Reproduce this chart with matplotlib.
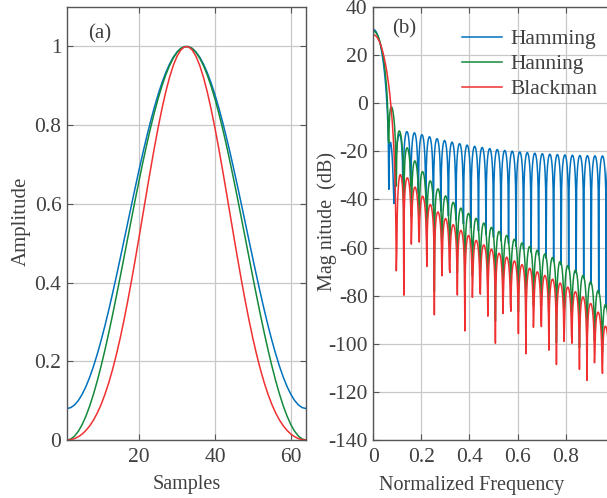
import numpy as np
import matplotlib
matplotlib.use("Agg")
import matplotlib.pyplot as plt

# ---- data / parameters ----
n_samples = 64                      # window length (samples 1..64)
names = ["Hamming", "Hanning", "Blackman"]
# generalized cosine-window coefficients a0, a1, a2
coef_hamming = [0.54, 0.46, 0.0]
coef_hanning = [0.5, 0.5, 0.0]
coef_blackman = [0.42, 0.5, 0.08]
n_freq = 512                        # frequency points, 0..1 (x pi rad/sample)
colors = ["#0072BD", "#14893C", "#F03030"]

left_xticks = [20, 40, 60]
left_yticks = [0, 0.2, 0.4, 0.6, 0.8, 1]
right_xticks = [0, 0.2, 0.4, 0.6, 0.8]
right_yticks = [-140, -120, -100, -80, -60, -40, -20, 0, 20, 40]


def cos_window(c, N):
    k = np.arange(N)
    d = N - 1
    w = c[0] - c[1] * np.cos(2 * np.pi * k / d) + c[2] * np.cos(4 * np.pi * k / d)
    w[np.abs(w) < 1e-12] = 0.0
    return w


samples = np.arange(1, n_samples + 1)
windows = [cos_window(c, n_samples) for c in (coef_hamming, coef_hanning, coef_blackman)]

freq = np.arange(n_freq) / n_freq
mags = []
for w in windows:
    H = np.fft.fft(w, 2 * n_freq)[:n_freq]
    mags.append(20 * np.log10(np.abs(H) + 1e-12))

# ---- styling ----
plt.rcParams["font.family"] = ["Liberation Serif", "DejaVu Serif"]
plt.rcParams["axes.unicode_minus"] = False
txt = "#404040"
spine_c = "#555555"
grid_c = "#C8C8C8"
tfs = 15.5
lfs = 14.5

fig = plt.figure(figsize=(6.07, 4.98), dpi=100)
ax1 = fig.add_axes([67 / 607, 58 / 498, 239 / 607, 433 / 498])
ax2 = fig.add_axes([373.3 / 607, 58 / 498, (607 - 373.3) / 607, 433 / 498])

for w, c in zip(windows, colors):
    ax1.plot(samples, w, color=c, lw=1.1)
ax1.set_xlim(1, 64)
ax1.set_ylim(0, 1.1)
ax1.set_xticks(left_xticks)
ax1.set_yticks(left_yticks)
ax1.set_yticklabels(["0", "0.2", "0.4", "0.6", "0.8", "1"])
ax1.set_xlabel("Samples", fontsize=lfs, color=txt)
ax1.xaxis.set_label_coords(0.502, -0.08)
ax1.set_ylabel("Amplitude", fontsize=lfs + 0.5, color=txt)
ax1.yaxis.set_label_coords(-0.15, 0.505)
ax1.text(0.088, 0.937, "(a)", transform=ax1.transAxes, fontsize=15, color=txt, va="center")

for m, c, nm in zip(mags, colors, names):
    ax2.plot(freq, m, color=c, lw=1.1, label=nm)
ax2.set_xlim(0, 0.972)
ax2.set_ylim(-140, 40)
ax2.set_xticks(right_xticks)
ax2.set_xticklabels(["0", "0.2", "0.4", "0.6", "0.8"])
ax2.set_yticks(right_yticks)
ax2.set_xlabel("Normalized Frequency", fontsize=lfs, color=txt)
ax2.xaxis.set_label_coords(0.422, -0.084)
ax2.set_ylabel("Mag nitude  (dB)", fontsize=lfs, color=txt)
ax2.yaxis.set_label_coords(-0.154, 0.505)
ax2.text(0.08, 0.95, "(b)", transform=ax2.transAxes, fontsize=15, color=txt, va="center")
ax2.spines["right"].set_visible(False)
leg = ax2.legend(loc="upper left", bbox_to_anchor=(462 / 607, 1 - 29 / 498),
                 bbox_transform=fig.transFigure, frameon=False,
                 fontsize=15.5, handlelength=1.85, handletextpad=0.4,
                 labelspacing=0.23, borderaxespad=0.0, borderpad=0.0)
for t in leg.get_texts():
    t.set_color(txt)

for ax in (ax1, ax2):
    ax.grid(True, color=grid_c, lw=0.9)
    ax.set_axisbelow(True)
    ax.tick_params(direction="in", length=4, width=0.8, color=spine_c,
                   labelsize=tfs, labelcolor=txt, top=True, right=(ax is ax1))
    ax.tick_params(axis="x", pad=6)
    ax.tick_params(axis="y", pad=4)
    for s in ax.spines.values():
        s.set_color(spine_c)
        s.set_linewidth(1.0)

fig.savefig("out.png", dpi=100)
